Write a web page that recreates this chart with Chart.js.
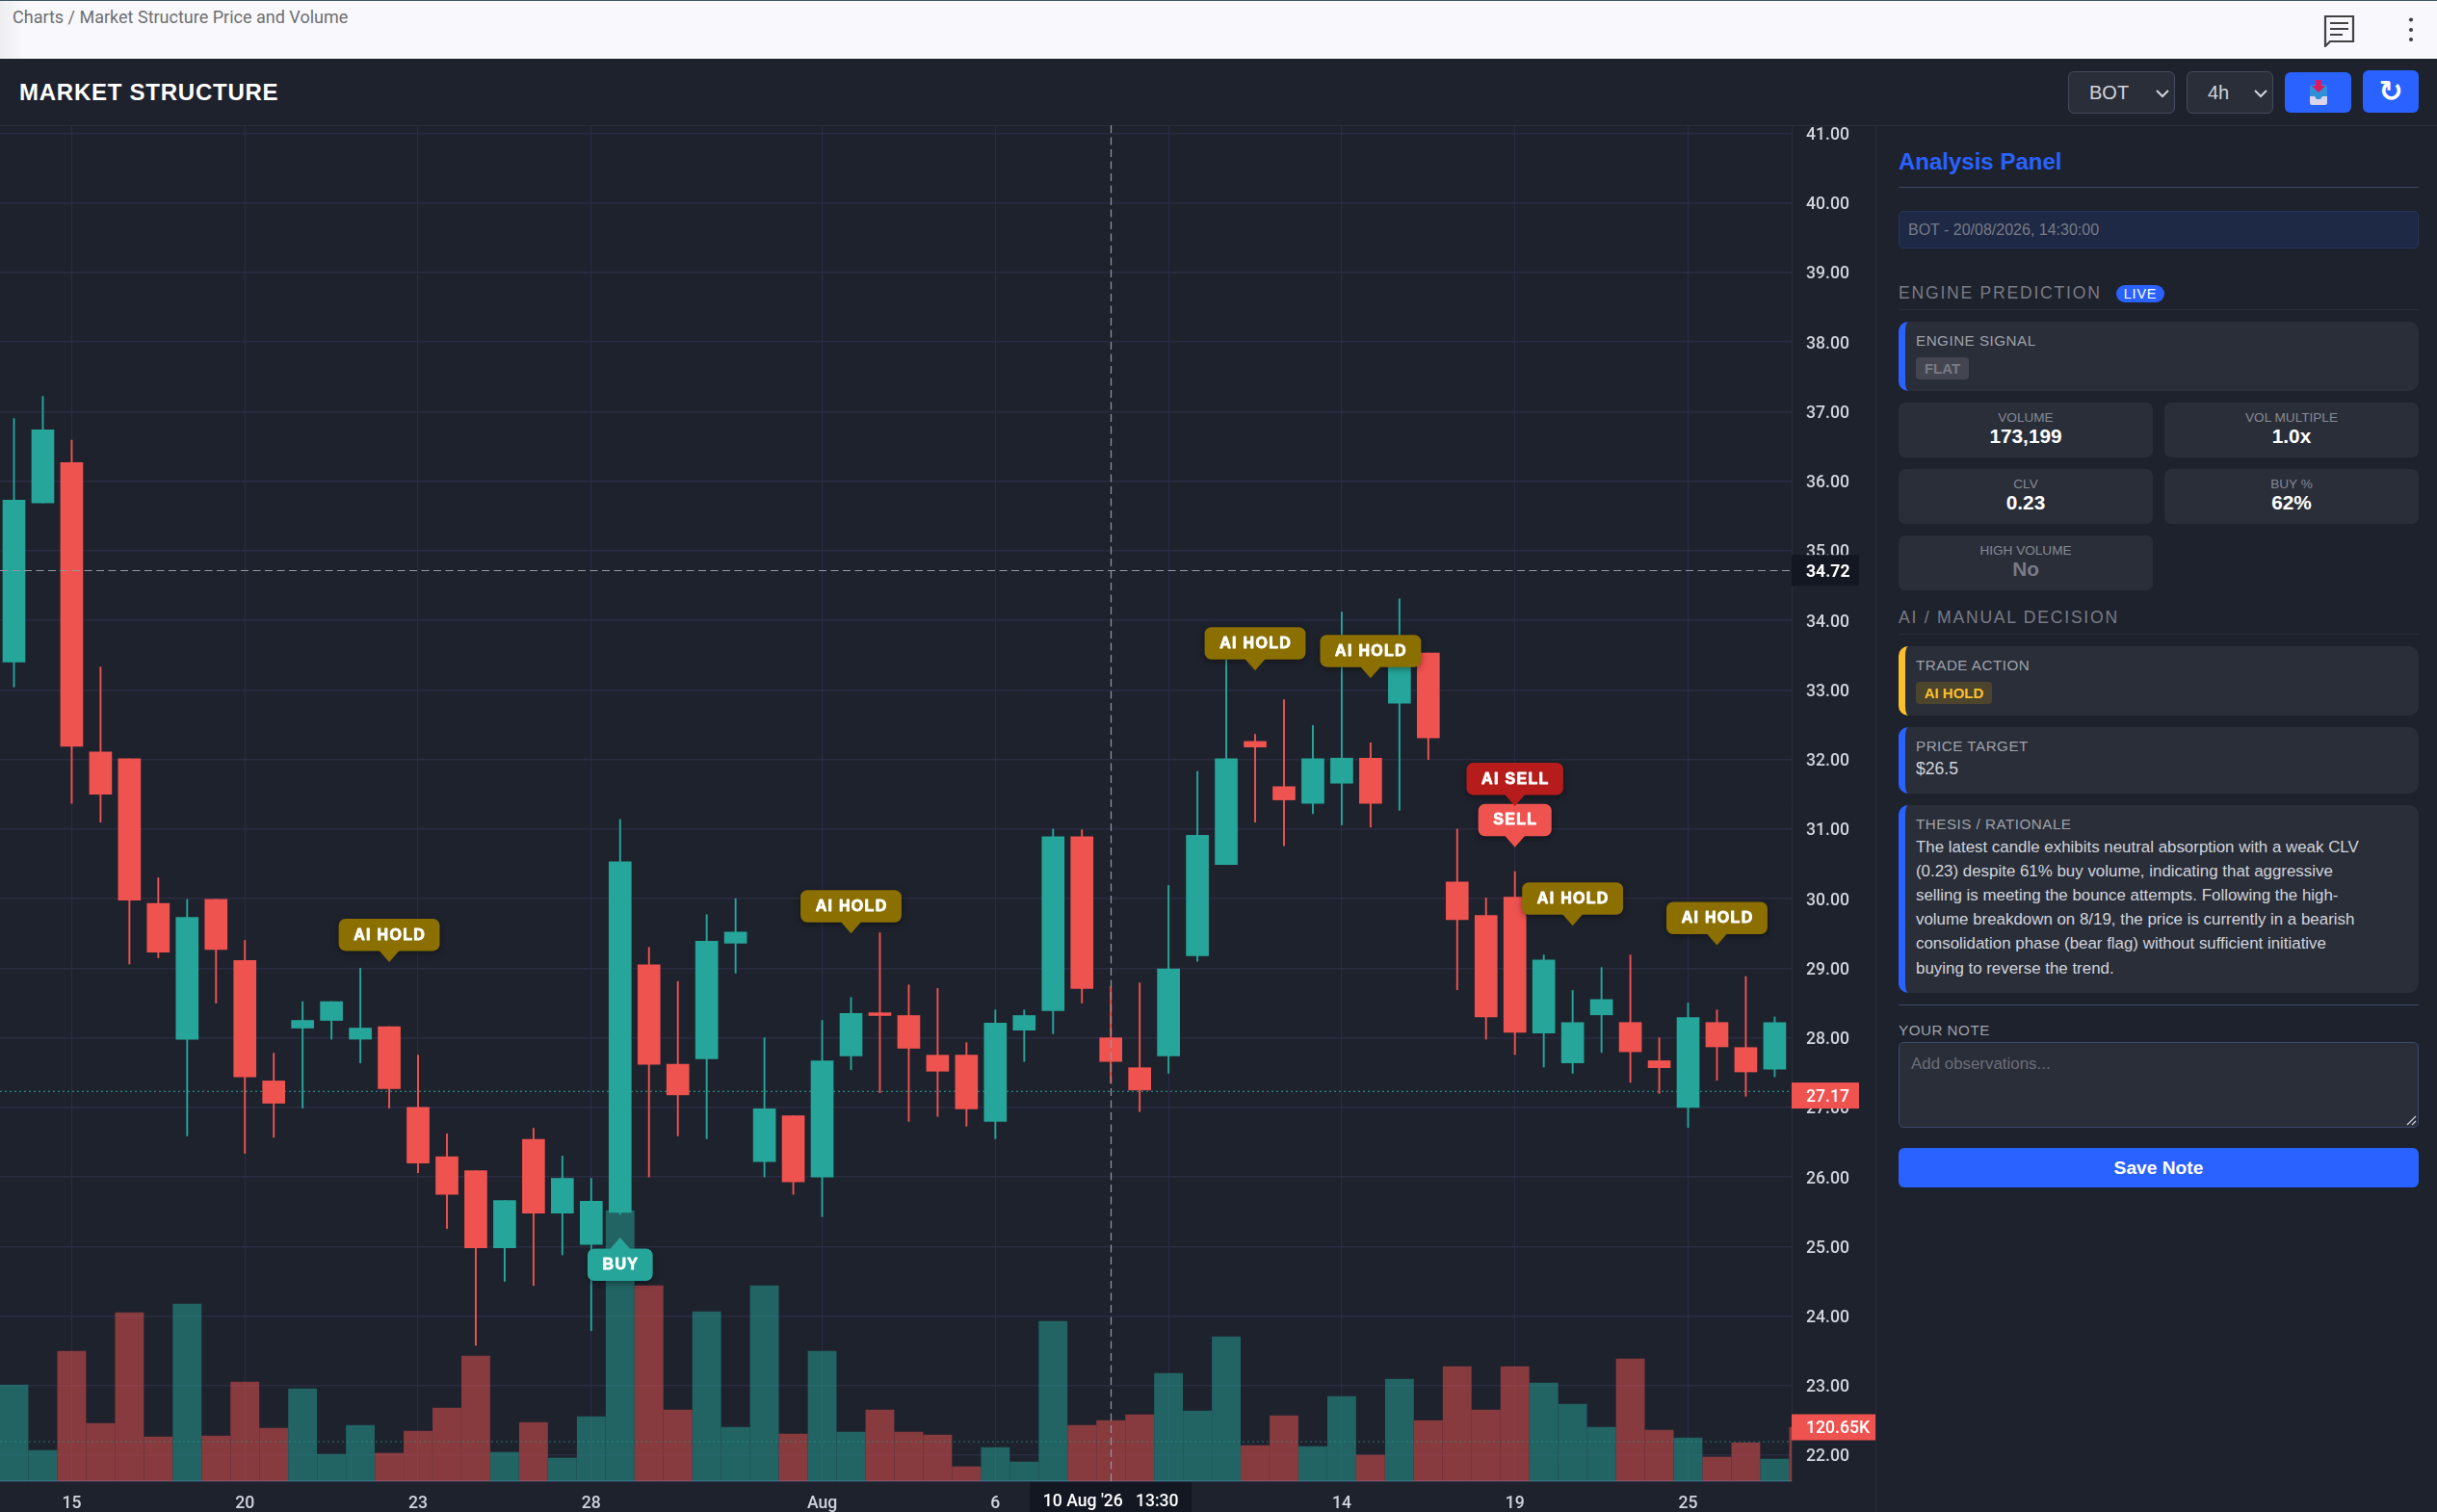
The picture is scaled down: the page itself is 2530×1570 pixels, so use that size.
<!DOCTYPE html>
<html><head><meta charset="utf-8"><title>Market Structure</title>
<script src="https://cdn.jsdelivr.net/npm/chart.js@4"></script>
<style>
html,body{margin:0;padding:0;width:2530px;height:1570px;overflow:hidden;background:#1e222d;font-family:"Liberation Sans",Arial,sans-serif}
.a{position:absolute;box-sizing:border-box;white-space:nowrap}
.card{background:#2a2e39;border-radius:10px}
.bar{border-left:7px solid #2962ff}
.lab{color:#9fa2ab;font-size:15.2px;letter-spacing:.5px;line-height:16px}
.sec{color:#787b86;font-size:17.6px;letter-spacing:1.75px;line-height:20px}
.sl{color:#868993;font-size:13.6px;line-height:16px;text-align:center}
.sv{color:#fff;font-size:20.8px;font-weight:700;line-height:24px;text-align:center}
.sel{background:#2a2e39;border:1px solid #434a5c;border-radius:6px;color:#d1d4dc;font-size:20px;line-height:42px}
.btn{background:#2962ff;border-radius:6px}
.th{color:#d1d4dc;font-size:16.9px;line-height:25px}
</style></head><body>
<div class="a" style="left:0;top:0;width:2530px;height:61px;background:linear-gradient(90deg,#eeeef1 0,#f9f9fd 25px);border-top:1.5px solid #3e5666"></div>
<div class="a" style="left:13px;top:7px;color:#6f6f6f;font:18px/22px Roboto">Charts / Market Structure Price and Volume</div>
<svg class="a" style="left:2410px;top:13px" width="36" height="36" viewBox="0 0 36 36"><path d="M4 4H33V30H9L4 35Z" fill="none" stroke="#424242" stroke-width="2.2"/><path d="M9 11H28M9 17H28M9 23H22" stroke="#424242" stroke-width="2.2"/></svg>
<svg class="a" style="left:2497px;top:15px" width="12" height="32"><circle cx="6" cy="5.5" r="2.1" fill="#424242"/><circle cx="6" cy="16" r="2.1" fill="#424242"/><circle cx="6" cy="26" r="2.1" fill="#424242"/></svg>
<div class="a" style="left:0;top:130px;width:2530px;height:1px;background:#2a2e39"></div>
<div class="a" style="left:20px;top:82px;color:#fff;font-size:24px;font-weight:700;letter-spacing:.75px;line-height:28px">MARKET STRUCTURE</div>
<div class="a sel" style="left:2147px;top:74px;width:111px;height:44px;padding-left:21px">BOT<svg class="a" style="right:4px;top:16px" width="16" height="12"><path d="M2 3L8 9L14 3" fill="none" stroke="#d1d4dc" stroke-width="2"/></svg></div>
<div class="a sel" style="left:2270px;top:74px;width:90px;height:44px;padding-left:21px">4h<svg class="a" style="right:4px;top:16px" width="16" height="12"><path d="M2 3L8 9L14 3" fill="none" stroke="#d1d4dc" stroke-width="2"/></svg></div>
<div class="a btn" style="left:2372px;top:75px;width:69px;height:42px"><svg class="a" style="left:24px;top:7px" width="22" height="28" viewBox="0 0 22 28"><rect x="2" y="6" width="18" height="15" rx="3" fill="#2f8fd8"/><path d="M2 18H7L9 21H13L15 18H20V25Q20 27 18 27H4Q2 27 2 25Z" fill="#d9d4ec"/><path d="M8 1H14V7H18L11 14L4 7H8Z" fill="#d81b60"/></svg></div>
<div class="a btn" style="left:2453px;top:73px;width:58px;height:44px;color:#fff;font:700 30px/44px 'DejaVu Sans';text-align:center">↻</div>

<div class="a" style="left:1947px;top:131px;width:1px;height:1439px;background:#2a2e39"></div>
<div class="a" style="left:1971px;top:154px;color:#2962ff;font-size:24px;font-weight:700;line-height:28px">Analysis Panel</div>
<div class="a" style="left:1971px;top:194px;width:540px;height:1px;background:#3a4660"></div>
<div class="a" style="left:1971px;top:219px;width:540px;height:39px;background:#1e2945;border:1px solid #27365c;border-radius:5px;color:#787b86;font-size:16px;line-height:37px;padding-left:9px">BOT - 20/08/2026, 14:30:00</div>
<div class="a sec" style="left:1971px;top:294px">ENGINE PREDICTION</div>
<div class="a" style="left:2197px;top:296px;width:50px;height:18px;background:#2962ff;border-radius:9px;color:#fff;font-size:14.4px;letter-spacing:.8px;line-height:18px;text-align:center">LIVE</div>
<div class="a" style="left:1971px;top:321px;width:540px;height:1px;background:#2a2e39"></div>
<div class="a card bar" style="left:1971px;top:334px;width:540px;height:72px"></div>
<div class="a lab" style="left:1989px;top:346px">ENGINE SIGNAL</div>
<div class="a" style="left:1989px;top:371px;width:55px;height:23px;background:#434651;border-radius:4px;color:#787b86;font-size:15px;font-weight:700;line-height:23px;text-align:center">FLAT</div>

<div class="a card" style="left:1971px;top:418px;width:264px;height:57px;border-radius:7px"></div>
<div class="a sl" style="left:1971px;top:426px;width:264px">VOLUME</div><div class="a sv" style="left:1971px;top:441px;width:264px">173,199</div>
<div class="a card" style="left:2247px;top:418px;width:264px;height:57px;border-radius:7px"></div>
<div class="a sl" style="left:2247px;top:426px;width:264px">VOL MULTIPLE</div><div class="a sv" style="left:2247px;top:441px;width:264px">1.0x</div>
<div class="a card" style="left:1971px;top:487px;width:264px;height:57px;border-radius:7px"></div>
<div class="a sl" style="left:1971px;top:495px;width:264px">CLV</div><div class="a sv" style="left:1971px;top:510px;width:264px">0.23</div>
<div class="a card" style="left:2247px;top:487px;width:264px;height:57px;border-radius:7px"></div>
<div class="a sl" style="left:2247px;top:495px;width:264px">BUY %</div><div class="a sv" style="left:2247px;top:510px;width:264px">62%</div>
<div class="a card" style="left:1971px;top:556px;width:264px;height:57px;border-radius:7px"></div>
<div class="a sl" style="left:1971px;top:564px;width:264px">HIGH VOLUME</div><div class="a sv" style="left:1971px;top:579px;width:264px;color:#787b86">No</div>

<div class="a sec" style="left:1971px;top:631px">AI / MANUAL DECISION</div>
<div class="a" style="left:1971px;top:658px;width:540px;height:1px;background:#2a2e39"></div>
<div class="a card bar" style="left:1971px;top:671px;width:540px;height:72px;border-left-color:#fbc02d"></div>
<div class="a lab" style="left:1989px;top:683px">TRADE ACTION</div>
<div class="a" style="left:1989px;top:708px;width:79px;height:23px;background:#4d442d;border-radius:4px;color:#fbc02d;font-size:15px;font-weight:700;line-height:23px;text-align:center">AI HOLD</div>
<div class="a card bar" style="left:1971px;top:755px;width:540px;height:69px"></div>
<div class="a lab" style="left:1989px;top:767px">PRICE TARGET</div>
<div class="a" style="left:1989px;top:787px;color:#d1d4dc;font-size:17.6px;line-height:22px">$26.5</div>
<div class="a card bar" style="left:1971px;top:836px;width:540px;height:195px"></div>
<div class="a lab" style="left:1989px;top:848px">THESIS / RATIONALE</div>
<div class="a th" style="left:1989px;top:867px">The latest candle exhibits neutral absorption with a weak CLV</div>
<div class="a th" style="left:1989px;top:892px">(0.23) despite 61% buy volume, indicating that aggressive</div>
<div class="a th" style="left:1989px;top:917px">selling is meeting the bounce attempts. Following the high-</div>
<div class="a th" style="left:1989px;top:942px">volume breakdown on 8/19, the price is currently in a bearish</div>
<div class="a th" style="left:1989px;top:967px">consolidation phase (bear flag) without sufficient initiative</div>
<div class="a th" style="left:1989px;top:993px">buying to reverse the trend.</div>
<div class="a" style="left:1971px;top:1043px;width:540px;height:1px;background:#3a4a6b"></div>
<div class="a lab" style="left:1971px;top:1062px">YOUR NOTE</div>
<div class="a" style="left:1971px;top:1082px;width:540px;height:89px;background:#2a2e39;border:1px solid #3a4a6b;border-radius:5px;color:#6a6d78;font-size:16.9px;line-height:22px;padding:11px 12px">Add observations...<svg class="a" style="right:1px;bottom:1px" width="12" height="12"><path d="M2 11L11 2M7 11L11 7" stroke="#c8ccd4" stroke-width="1.3"/></svg></div>
<div class="a btn" style="left:1971px;top:1192px;width:540px;height:41px;color:#fff;font-size:19.2px;font-weight:700;line-height:41px;text-align:center">Save Note</div>

<canvas id="c" width="1947" height="1440" style="position:absolute;left:0;top:130px;width:1947px;height:1440px"></canvas>
<script>
const opens=[33.40,35.69,36.27,32.11,32.01,29.93,27.98,29.99,29.11,27.38,28.14,28.25,27.98,28.16,27.00,26.29,26.09,24.98,26.54,25.48,25.03,25.49,29.05,27.62,27.70,29.36,26.22,26.88,26.00,27.74,28.36,28.32,27.75,27.75,26.80,28.11,28.39,30.89,28.00,27.57,27.74,29.18,30.49,32.26,31.61,31.37,31.66,32.02,32.81,33.53,30.24,29.76,30.02,28.07,27.64,28.33,28.22,27.67,27.00,28.22,27.86,27.55,27.60];
const highs=[36.90,37.22,36.59,33.33,32.01,30.30,29.99,29.99,29.40,27.78,28.52,28.52,29.00,28.16,27.75,26.62,26.09,25.66,26.70,26.30,25.98,31.14,29.30,28.81,29.77,30.00,28.00,26.88,28.25,28.58,29.51,28.76,28.71,27.93,28.40,28.40,31.00,30.99,28.74,28.79,30.19,31.83,33.55,32.36,32.86,32.49,34.12,32.24,34.31,33.53,31.00,30.01,30.39,29.19,28.68,29.01,29.19,28.00,28.50,28.40,28.88,28.30,27.80];
const lows=[33.04,35.69,31.37,31.10,29.06,29.15,26.59,28.50,26.34,26.57,26.99,27.98,27.64,26.99,26.06,25.26,23.58,24.50,24.44,24.88,23.79,25.46,26.00,26.59,26.55,28.93,26.00,25.75,25.43,27.54,27.21,26.80,26.87,26.73,26.55,27.66,28.06,28.50,27.35,26.94,27.49,29.10,30.49,31.10,30.76,31.22,31.06,31.03,31.27,32.00,28.69,27.98,27.76,27.58,27.49,27.79,27.36,27.20,26.71,27.39,27.16,27.44,27.10];
const closes=[35.73,36.74,32.19,31.50,29.98,29.23,29.73,29.27,27.44,27.06,28.25,28.52,28.14,27.27,26.20,25.75,24.98,25.66,25.48,25.98,25.65,30.53,27.62,27.18,29.39,29.52,26.98,25.93,27.67,28.35,28.32,27.85,27.52,26.98,28.21,28.32,30.89,28.71,27.66,27.25,28.99,30.91,32.01,32.18,31.42,32.01,32.02,31.37,33.53,32.31,29.70,28.30,28.08,29.12,28.22,28.55,27.80,27.57,28.29,27.87,27.51,28.22,27.17];
const volumesK=[215.4,68.9,290.8,129.2,377.0,99.1,396.3,101.2,221.9,118.5,206.8,60.3,124.9,62.5,112.0,163.7,280.0,64.6,131.4,51.7,144.3,605.3,437.3,159.4,379.1,120.6,437.3,105.5,290.8,109.9,159.4,109.9,103.4,32.3,75.4,43.1,357.6,124.9,135.7,148.6,241.2,157.2,323.1,79.7,146.5,77.5,189.6,58.2,228.3,135.7,256.3,159.4,256.3,219.7,172.3,120.6,273.6,114.2,96.9,53.9,86.2,49.5,120.65];
const priceTicks=[22,23,24,25,26,27,28,29,30,31,32,33,34,35,36,37,38,39,40,41];
const timeTickIndex=[2,8,14,20,28,34,40,46,52,58];
const timeTickLabels=["15","20","23","28","Aug","6","10","14","19","25"];
const markerIndex=[13,29,43,47,52,52,54,59,21];
const markerPrice=[29.09,29.50,33.28,33.17,30.74,31.33,29.61,29.33,25.13];
const markerText=["AI HOLD","AI HOLD","AI HOLD","AI HOLD","SELL","AI SELL","AI HOLD","AI HOLD","BUY"];
const currentPrice=27.17, currentLinePrice=27.23, crossPrice=34.72, crossIndex=38, crossLabel="10 Aug '26   13:30", lastVolumeK=120.65, volumeLineK=88.3;

const UP="#26a69a",DOWN="#ef5350",GRID="#2B2B43";
const markerColor={"AI HOLD":"#8b6f00","AI SELL":"#b71c1c","SELL":"#ef5350","BUY":"#26a69a"};
const isUp=i=>closes[i]>=opens[i];
const idx=opens.map((_,i)=>i);
const xMin=-0.484,xMax=61.587;
const lineData=v=>[{x:xMin,y:v},{x:xMax,y:v}];

const overlay={id:'overlay',
 afterDatasetsDraw(ch){
  const c=ch.ctx,xs=ch.scales.x,ys=ch.scales.y;
  c.save();
  markerText.forEach((t,k)=>{
   const x=xs.getPixelForValue(markerIndex[k]),y=ys.getPixelForValue(markerPrice[k]),up=t==="BUY";
   c.font='700 16px "Liberation Sans"';c.letterSpacing='1.3px';
   const w=c.measureText(t).width+30,h=33.5,tip=11.5,tw=11;
   const top=up?y+tip:y-tip-h;
   c.fillStyle=markerColor[t];
   c.shadowColor='rgba(0,0,0,.4)';c.shadowBlur=7;c.shadowOffsetY=2;
   c.beginPath();c.roundRect(x-w/2,top,w,h,7);c.fill();
   c.shadowColor='transparent';c.shadowBlur=0;c.shadowOffsetY=0;
   c.beginPath();
   if(up){c.moveTo(x-tw,y+tip+1);c.lineTo(x,y);c.lineTo(x+tw,y+tip+1);}
   else{c.moveTo(x-tw,y-tip-1);c.lineTo(x,y);c.lineTo(x+tw,y-tip-1);}
   c.closePath();c.fill();
   c.fillStyle='#fff';c.strokeStyle='#fff';c.lineWidth=.8;c.lineJoin='round';c.textAlign='center';c.textBaseline='middle';
   c.fillText(t,x+.6,top+h/2+.5);c.strokeText(t,x+.6,top+h/2+.5);
  });
  c.restore();
 },
 afterDraw(ch){
  const c=ch.ctx,xs=ch.scales.x,ys=ch.scales.y,yv=ch.scales.y2,a=ch.chartArea;
  c.save();
  const cx=xs.getPixelForValue(crossIndex),cy=ys.getPixelForValue(crossPrice);
  c.strokeStyle='#9598a1';c.lineWidth=1.2;c.setLineDash([8,4.5]);
  c.beginPath();c.moveTo(a.left,Math.round(cy)+.5);c.lineTo(a.right,Math.round(cy)+.5);
  c.moveTo(Math.round(cx)+.5,a.top);c.lineTo(Math.round(cx)+.5,a.bottom);c.stroke();
  c.setLineDash([]);
  c.textBaseline='middle';c.textAlign='left';
  const pill=(val,bg,txt,w,h,weight)=>{
   c.fillStyle=bg;c.fillRect(a.right,val-h/2,w,h);
   c.fillStyle='#fff';c.font=(weight||500)+' 17.6px Roboto';c.fillText(txt,a.right+15,val+2);
  };
  pill(ys.getPixelForValue(crossPrice),'#131722',crossPrice.toFixed(2),70,32,700);
  pill(ys.getPixelForValue(currentPrice),DOWN,currentPrice.toFixed(2),70,27,500);
  pill(yv.getPixelForValue(lastVolumeK),DOWN,lastVolumeK.toFixed(2)+'K',87,27,500);
  c.fillStyle='#131722';c.fillRect(cx-84,a.bottom+1,168,ch.height-a.bottom);
  c.textAlign='center';
  c.fillStyle='#fff';c.font='500 17.6px Roboto';c.fillText(crossLabel,cx,a.bottom+22);
  c.restore();
 }};

new Chart(document.getElementById('c').getContext('2d'),{
 type:'bar',
 data:{labels:idx,datasets:[
  {type:'bar',order:5,yAxisID:'y2',grouped:false,barThickness:29.2,borderWidth:0,
   data:idx.map(i=>({x:i,y:volumesK[i]})),
   backgroundColor:idx.map(i=>isUp(i)?'rgba(38,166,154,.5)':'rgba(239,83,80,.5)')},
  {type:'line',order:4,yAxisID:'y2',data:lineData(volumeLineK),borderColor:'rgba(38,166,154,.6)',borderWidth:1,borderDash:[2,3],pointRadius:0,fill:false},
  {type:'line',order:3,yAxisID:'y',data:lineData(currentLinePrice),borderColor:UP,borderWidth:1.2,borderDash:[2,3],pointRadius:0,fill:false},
  {type:'bar',order:2,yAxisID:'y',grouped:false,barThickness:1.25,borderWidth:0,
   data:idx.map(i=>({x:i,y:[lows[i],highs[i]]})),
   backgroundColor:idx.map(i=>isUp(i)?UP:DOWN)},
  {type:'bar',order:1,yAxisID:'y',grouped:false,barThickness:23,borderWidth:0,
   data:idx.map(i=>({x:i,y:[opens[i],closes[i]]})),
   backgroundColor:idx.map(i=>isUp(i)?UP:DOWN)}
 ]},
 plugins:[overlay],
 options:{
  responsive:false,animation:false,devicePixelRatio:1,
  layout:{padding:0},
  plugins:{legend:{display:false},tooltip:{enabled:false},title:{display:false}},
  events:[],
  scales:{
   x:{type:'linear',offset:false,min:xMin,max:xMax,
    grid:{color:GRID,lineWidth:1.1,drawTicks:false,offset:false},
    border:{display:true,color:'#3a4a6b',width:1.5},
    afterBuildTicks:s=>{s.ticks=timeTickIndex.map(v=>({value:v}));},
    afterFit:s=>{s.height=32;s.paddingLeft=0;s.paddingRight=0;},
    ticks:{autoSkip:false,maxRotation:0,padding:13,color:'#d1d4dc',font:{family:'Roboto',size:17.6,weight:'500'},
     callback:v=>timeTickLabels[timeTickIndex.indexOf(v)]}},
   y:{type:'linear',position:'right',min:21.627,max:41.118,
    grid:{color:GRID,lineWidth:1.5,drawTicks:false},
    border:{display:true,color:'#2a2e39',width:1},
    afterBuildTicks:s=>{s.ticks=priceTicks.map(v=>({value:v}));},
    afterFit:s=>{s.width=87;s.paddingTop=0;s.paddingBottom=0;},
    ticks:{padding:15,labelOffset:2,color:'#d1d4dc',font:{family:'Roboto',size:17.6,weight:'500'},callback:v=>v.toFixed(2)}},
   y2:{type:'linear',display:false,position:'right',min:0,max:3032.8}
  }
 }
});
</script>
</body></html>
